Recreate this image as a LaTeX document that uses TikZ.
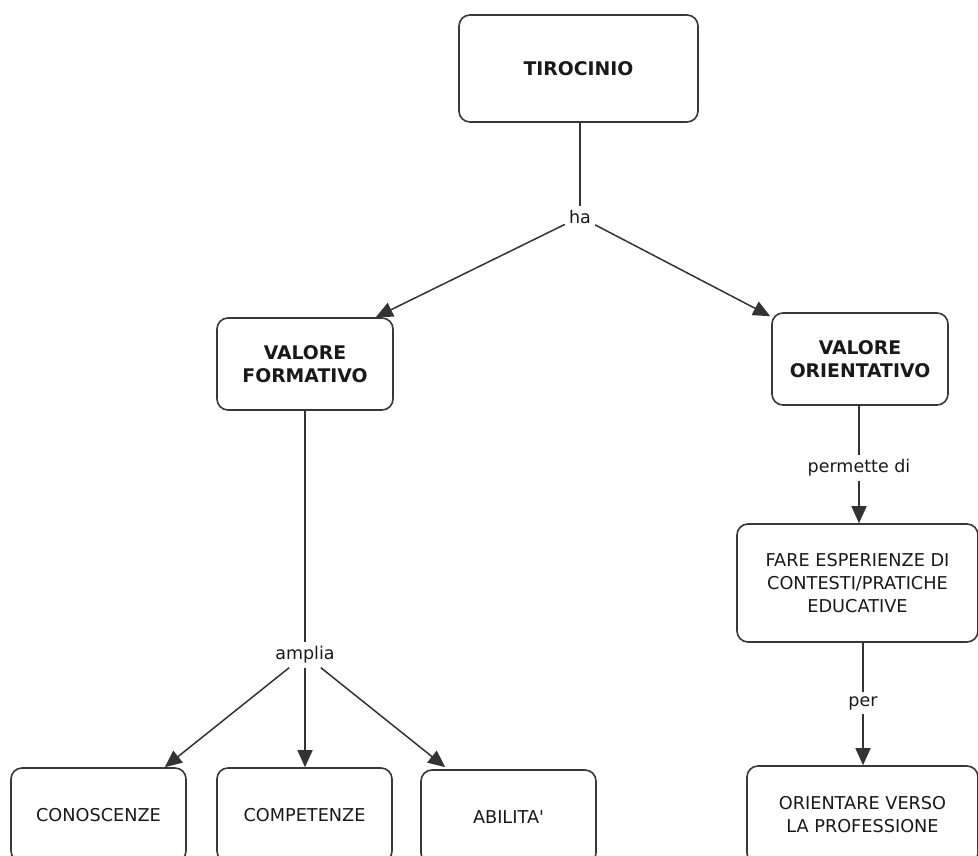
\documentclass[tikz,border=0pt]{standalone}
\usepackage{fontspec}
\setmainfont{DejaVu Sans}
\usetikzlibrary{arrows.meta,calc}
\begin{document}
\begin{tikzpicture}[x=1pt,y=-1pt,
  box/.style={draw=black!78, line width=1.6pt, rounded corners=11pt, align=center,
    font=\fontsize{17.7}{23}\selectfont, text=black!90, inner sep=0pt},
  bbox/.style={box, font=\fontsize{18.8}{23}\selectfont\bfseries},
  lab/.style={font=\fontsize{17.5}{22}\selectfont, text=black!90, inner sep=4pt},
  conn/.style={draw=black!80, line width=1.5pt},
  arr/.style={conn, -{Triangle[length=17pt,width=15pt]}}
]
\useasboundingbox (0,0) rectangle (978,856);
\clip (0,0) rectangle (978,856);

% concept boxes
\node[bbox, minimum width=239pt, minimum height=107pt] (tiro) at (578.5,68.5) {TIROCINIO};
\node[bbox, minimum width=176pt, minimum height=92pt] (vf) at (305,364) {VALORE\\FORMATIVO};
\node[bbox, minimum width=176pt, minimum height=92pt] (vo) at (860,359) {VALORE\\ORIENTATIVO};
\node[box, minimum width=241pt, minimum height=118pt] (fare) at (857.5,583) {FARE ESPERIENZE DI\\CONTESTI/PRATICHE\\EDUCATIVE};
\node[box, minimum width=231pt, minimum height=98pt] (orient) at (862.5,815) {ORIENTARE VERSO\\LA PROFESSIONE};
\node[box, minimum width=175pt, minimum height=94pt] (con) at (98.5,815) {CONOSCENZE};
\node[box, minimum width=175pt, minimum height=94pt] (comp) at (304.5,815) {COMPETENZE};
\node[box, minimum width=175pt, minimum height=94pt] (abil) at (508.5,817) {ABILITA\textquotesingle};

% linking phrases
\node[lab] (ha) at (580,217) {ha};
\node[lab] (amplia) at (305,655) {amplia};
\node[lab] (perm) at (859,468) {permette di};
\node[lab] (per) at (863,703) {per};

% connectors
\draw[conn] (tiro.south -| ha) -- (ha.north);
\draw[arr] (ha) -- ($(vf.north east)+(-18,0)$);
\draw[arr] (ha) -- ($(vo.north west)+(-1,4)$);

\draw[conn] (vf.south -| amplia) -- (amplia.north);
\draw[arr] (amplia) -- ($(con.north east)+(-22,0)$);
\draw[arr] (amplia.south) -- (amplia.south |- comp.north);
\draw[arr] (amplia) -- ($(abil.north west)+(25,-2)$);

\draw[conn] (vo.south -| perm) -- (perm.north);
\draw[arr] (perm.south) -- (perm.south |- fare.north);
\draw[conn] (fare.south -| per) -- (per.north);
\draw[arr] (per.south) -- (per.south |- orient.north);
\end{tikzpicture}
\end{document}
